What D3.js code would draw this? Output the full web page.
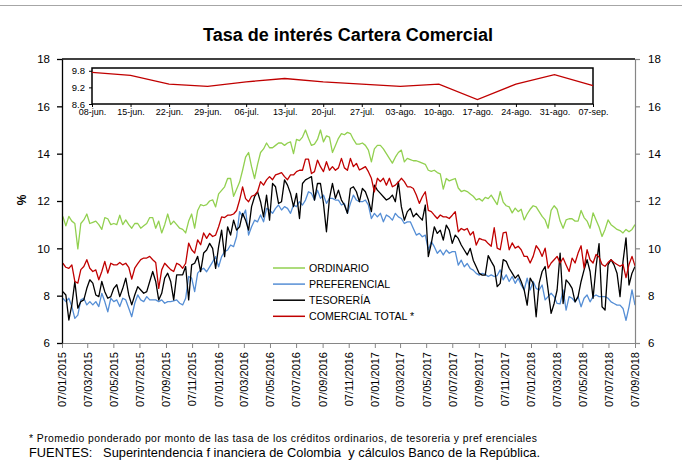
<!DOCTYPE html>
<html>
<head>
<meta charset="utf-8">
<script src="https://cdn.jsdelivr.net/npm/d3@7"></script>
<style>
  body { margin: 0; background: #fff; }
  svg { font-family: Arial, "Liberation Sans", sans-serif; }
</style>
</head>
<body>
<svg class="chart" width="682" height="466"></svg>
<script>
// weekly series, first Friday of 2015 up to 07/09/2018
const ordinario = [
  11.35, 10.95, 11.35, 11.15, 11.05, 9.98, 11.05, 11.2, 11.45, 11.05, 11.1, 11.15,
  11.0, 10.8, 11.3, 11.25, 11.0, 11.05, 11.0, 11.4, 11.0, 11.2, 11.0, 10.85,
  11.05, 11.05, 10.85, 10.95, 11.05, 11.3, 11.3, 10.85, 11.15, 10.65, 11.0, 11.45,
  11.0, 11.15, 11.0, 10.85, 10.8, 10.65, 11.15, 11.45, 10.85, 11.6, 11.85, 11.8,
  11.85, 12.0, 12.05, 11.75, 12.3, 12.45, 12.6, 12.95, 12.95, 12.2, 12.5, 12.8,
  13.3, 13.85, 14.05, 13.45, 12.95, 13.55, 14.05, 14.2, 14.45, 14.25, 14.25, 14.35,
  14.45, 14.45, 14.35, 14.45, 14.5, 14.0, 14.6, 14.55, 14.7, 15.0, 14.65, 14.35,
  14.4, 14.6, 15.0, 14.5, 14.75, 14.7, 14.05, 14.35, 14.65, 14.85, 14.8, 14.9,
  14.85, 14.6, 14.4, 14.4, 14.45, 14.35, 14.15, 13.65, 14.2, 14.35, 14.35, 14.2,
  14.0, 13.8, 13.6, 13.85, 14.05, 14.15, 13.65, 13.8, 13.75, 13.7, 13.7, 13.65,
  13.6, 13.55, 13.3, 13.25, 13.3, 13.2, 13.15, 12.5, 12.95, 12.85, 12.9, 12.95,
  12.55, 12.4, 12.45, 12.4, 12.3, 12.2, 12.05, 12.1, 12.0, 12.15, 12.1, 12.25,
  12.05, 11.85, 12.4, 11.95, 11.8, 11.75, 11.5, 11.7, 11.55, 11.65, 11.2, 11.45,
  11.65, 11.8, 11.75, 11.55, 11.35, 11.2, 10.85, 11.6, 11.8, 11.65, 11.15, 10.85,
  11.2, 11.25, 11.25, 11.15, 11.15, 11.6, 11.3, 11.15, 10.85, 11.5, 11.2, 10.9,
  10.5, 10.8, 11.2, 11.0, 10.9, 10.8, 10.75, 10.65, 10.8, 10.7, 10.8, 11.0
]

const preferencial = [
  7.89, 7.75, 7.89, 7.54, 7.04, 7.18, 7.82, 7.89, 7.61, 7.75, 7.61, 7.75,
  7.54, 8.1, 7.75, 7.32, 7.89, 7.75, 7.82, 7.54, 7.89, 7.82, 7.47, 7.11,
  7.68, 8.03, 7.82, 7.75, 7.96, 7.82, 7.82, 7.82, 7.75, 7.82, 7.68, 7.75,
  7.75, 7.78, 7.82, 7.68, 7.61, 7.89, 8.81, 8.74, 8.17, 8.95, 9.09, 9.16,
  9.01, 9.22, 9.43, 9.65, 9.22, 9.65, 9.86, 9.93, 10.14, 10.07, 10.49, 11.55,
  11.33, 11.62, 10.56, 10.91, 11.19, 11.12, 11.41, 11.12, 11.69, 11.62, 11.48, 11.69,
  11.83, 11.62, 11.76, 11.69, 11.48, 11.83, 11.76, 11.97, 11.83, 12.04, 12.39, 12.32,
  12.04, 12.46, 12.11, 12.25, 11.9, 12.11, 12.11, 12.04, 12.04, 11.83, 11.9, 11.48,
  11.9, 12.25, 12.04, 11.97, 11.97, 12.04, 11.83, 11.26, 11.48, 11.33, 11.48, 11.12,
  11.41, 11.33, 11.19, 11.48, 11.33, 11.26, 11.05, 11.12, 11.12, 10.84, 10.56, 10.63,
  10.49, 10.56, 9.93, 10.28, 10.07, 9.79, 9.93, 9.72, 9.93, 9.79, 9.86, 9.86,
  9.29, 9.5, 9.22, 9.36, 9.15, 9.08, 8.94, 8.87, 8.94, 8.9, 8.81, 8.88,
  8.81, 8.85, 9.09, 8.67, 8.88, 8.6, 8.81, 8.52, 8.74, 8.45, 8.24, 8.74,
  8.24, 8.6, 8.31, 8.24, 8.45, 7.82, 7.96, 8.1, 7.96, 7.67, 7.65, 8.24,
  7.39, 7.96, 7.89, 7.74, 7.96, 7.53, 7.89, 8.03, 7.74, 7.96, 8.03, 7.96,
  7.96, 7.96, 7.89, 7.74, 7.67, 7.6, 7.6, 7.46, 6.96, 7.53, 8.24, 7.6
]

const tesoreria = [
  8.17, 8.03, 6.97, 7.61, 8.6, 7.47, 7.75, 7.82, 8.31, 8.67, 8.53, 8.03,
  7.96, 8.6, 8.17, 7.89, 7.96, 8.31, 8.46, 7.96, 8.31, 8.74, 8.03, 7.61,
  8.03, 8.38, 8.24, 8.1, 8.17, 8.6, 9.02, 8.6, 7.82, 8.1, 8.74, 8.95,
  8.6, 7.82, 8.88, 8.88, 8.88, 9.23, 7.82, 9.3, 9.37, 9.66, 9.02, 9.8,
  9.93, 10.21, 10.0, 9.15, 10.07, 10.77, 9.65, 10.91, 10.56, 11.19, 10.77, 10.91,
  11.48, 11.19, 10.77, 11.76, 12.18, 12.39, 11.97, 11.33, 12.25, 11.19, 12.74, 12.6,
  11.9, 11.97, 12.89, 12.67, 12.32, 11.76, 12.32, 11.26, 12.74, 12.89, 12.96, 13.03,
  12.04, 12.74, 12.74, 11.9, 10.7, 12.11, 12.74, 12.11, 12.46, 12.04, 11.83, 11.48,
  12.53, 12.6, 12.39, 11.97, 12.53, 12.39, 12.04, 11.55, 12.67, 12.46, 12.32, 12.18,
  12.04, 12.11, 12.25, 11.97, 12.82, 11.76, 11.19, 11.55, 11.69, 11.33, 11.48, 11.33,
  11.19, 11.83, 9.65, 10.21, 10.91, 10.63, 10.77, 10.35, 10.98, 10.77, 10.21, 10.56,
  10.42, 10.14, 9.93, 9.72, 10.0, 9.5, 9.22, 8.94, 8.87, 8.87, 9.69, 9.45,
  9.23, 8.38, 8.52, 9.52, 9.45, 9.16, 8.95, 8.74, 8.88, 8.6, 8.24, 7.6,
  8.74, 8.52, 7.11, 8.52, 9.02, 9.23, 8.24, 7.25, 7.67, 8.24, 9.8, 7.67,
  8.67, 8.52, 8.31, 7.74, 7.96, 8.6, 9.09, 9.52, 9.02, 7.89, 9.23, 10.2,
  7.53, 7.39, 9.3, 9.52, 9.3, 8.95, 7.96, 9.45, 10.44, 8.45, 8.95, 9.23
]

const comercial = [
  9.37, 9.2, 9.15, 9.3, 8.6, 8.53, 9.1, 9.23, 9.52, 9.16, 9.02, 9.09,
  8.67, 9.02, 9.45, 8.95, 9.37, 9.3, 9.3, 9.4, 9.3, 9.37, 9.2, 8.7,
  9.16, 9.35, 9.52, 9.59, 9.59, 9.66, 9.52, 9.4, 8.31, 9.09, 9.37, 9.23,
  9.1, 9.02, 9.37, 9.3, 9.16, 9.37, 10.22, 9.94, 9.8, 10.36, 10.15, 10.65,
  10.42, 10.63, 10.5, 10.56, 10.91, 11.33, 11.3, 11.4, 11.4, 11.45, 11.6, 12.04,
  12.6, 12.1, 11.97, 12.2, 12.25, 12.39, 12.82, 12.67, 12.89, 13.03, 12.9, 13.1,
  13.15, 13.2, 13.03, 12.9, 13.1, 13.1, 13.24, 13.3, 13.3, 13.77, 13.77, 13.16,
  13.24, 13.73, 13.45, 13.24, 13.66, 13.3, 13.45, 13.3, 13.4, 13.8, 13.4, 13.3,
  13.8, 13.45, 13.59, 13.31, 13.38, 13.45, 13.24, 12.96, 12.39, 12.96, 12.82, 12.96,
  12.67, 12.96, 12.6, 12.67, 12.8, 12.96, 12.82, 12.6, 12.6, 12.53, 12.25, 11.9,
  12.18, 12.39, 11.6, 11.55, 11.4, 11.26, 11.41, 11.33, 11.33, 11.26, 11.4, 11.55,
  10.7, 10.84, 10.77, 10.84, 10.56, 10.7, 10.14, 10.42, 10.37, 10.34, 10.2, 10.09,
  10.87, 10.01, 9.94, 10.65, 10.68, 9.94, 10.23, 10.01, 10.09, 9.94, 9.66, 9.66,
  9.38, 9.66, 10.11, 9.94, 9.66, 10.01, 9.16, 9.38, 9.52, 9.66, 9.38, 9.59,
  9.3, 9.02, 9.59, 9.38, 9.8, 10.11, 9.16, 9.94, 9.52, 9.38, 9.74, 9.63,
  9.32, 9.24, 9.40, 9.52, 9.40, 9.32, 9.24, 9.32, 8.76, 9.32, 9.66, 9.26
]

const seriesNames = ["ORDINARIO", "PREFERENCIAL", "TESORERÍA", "COMERCIAL TOTAL *"]
const seriesColors = ["#92d050", "#558ed5", "#000000", "#c00000"]
const yTicks = [6, 8, 10, 12, 14, 16, 18]

// small chart in the corner: last 14 weeks of the total
const insetLabels = ["08-jun.", "15-jun.", "22-jun.", "29-jun.", "06-jul.", "13-jul.", "20-jul.",
  "27-jul.", "03-ago.", "10-ago.", "17-ago.", "24-ago.", "31-ago.", "07-sep."]
const insetTicks = [8.6, 9.2, 9.8]

const firstWeek = new Date(2015, 0, 9)
const dates = d3.range(ordinario.length).map(i => d3.timeDay.offset(firstWeek, 7 * i))
const tickDates = d3.range(0, 45, 2).map(m => new Date(2015, m, 7)) // every 2 months

const svg = d3.select("svg.chart")

const x = d3.scaleTime()
  .domain([new Date(2015, 0, 7), new Date(2018, 8, 7)])
  .range([62, 635])

const y = d3.scaleLinear()
  .domain([6, 18])
  .range([343, 59])

// outer frame line at the top
svg.append("line")
  .attr("x1", 0).attr("x2", 682)
  .attr("y1", 5.5).attr("y2", 5.5)
  .attr("stroke", "#a6a6a6")

svg.append("text")
  .attr("x", 348)
  .attr("y", 41)
  .attr("text-anchor", "middle")
  .style("font-weight", "bold")
  .style("font-size", "18px")
  .text("Tasa de interés Cartera Comercial")

// series lines
const line = d3.line()
  .x((d, i) => x(dates[i]))
  .y(d => y(d))

const allSeries = [ordinario, preferencial, tesoreria, comercial]

svg.append("g")
  .selectAll("path")
  .data(allSeries)
  .enter()
  .append("path")
  .attr("fill", "none")
  .attr("stroke", (d, i) => seriesColors[i])
  .attr("stroke-width", 1.3)
  .attr("stroke-linejoin", "round")
  .attr("d", line)

// axes
const xAxis = svg.append("g")
  .attr("transform", "translate(0,343)")
  .call(d3.axisBottom(x)
    .tickValues(tickDates)
    .tickFormat(d3.timeFormat("%d/%m/%Y"))
    .tickSize(5)
    .tickSizeOuter(0))

xAxis.selectAll("text")
  .attr("transform", "rotate(-90)")
  .attr("x", -9)
  .attr("y", 0)
  .attr("dy", "0.35em")
  .style("text-anchor", "end")
  .style("font-size", "11px")
  .attr("fill", "#000")

xAxis.selectAll("path, line").attr("stroke", "#868686")

const leftAxis = svg.append("g")
  .attr("transform", "translate(62,0)")
  .call(d3.axisLeft(y).tickValues(yTicks).tickSize(5).tickSizeOuter(0).tickPadding(7))

leftAxis.selectAll("text").style("font-size", "11.5px").attr("fill", "#000")
leftAxis.selectAll("path, line").attr("stroke", "#000").attr("stroke-width", 1.3)

const rightAxis = svg.append("g")
  .attr("transform", "translate(635,0)")
  .call(d3.axisRight(y).tickValues(yTicks).tickSize(5).tickSizeOuter(0).tickPadding(8))

rightAxis.selectAll("text").style("font-size", "11.5px").attr("fill", "#000")
rightAxis.selectAll("path, line").attr("stroke", "#868686").attr("stroke-width", 1.2)

// top edge of the plot area
svg.append("line")
  .attr("x1", 62).attr("x2", 635)
  .attr("y1", y(18)).attr("y2", y(18))
  .attr("stroke", "#000")
  .attr("stroke-width", 1.3)

svg.append("text")
  .attr("transform", "translate(26,200) rotate(-90)")
  .attr("text-anchor", "middle")
  .style("font-weight", "bold")
  .style("font-size", "12px")
  .text("%")

// legend
const legend = svg.append("g")
  .selectAll("g")
  .data(seriesNames)
  .enter()
  .append("g")
  .attr("transform", (d, i) => "translate(273," + (268 + i * 16.1) + ")")

legend.append("line")
  .attr("x1", 0).attr("x2", 32)
  .attr("stroke", (d, i) => seriesColors[i])
  .attr("stroke-width", 1.5)

legend.append("text")
  .attr("x", 36)
  .attr("dy", "0.36em")
  .style("font-size", "10.6px")
  .text(d => d)

// inset with the last weeks
const insetValues = comercial.slice(-insetLabels.length)

const xi = d3.scalePoint()
  .domain(insetLabels)
  .range([92, 593])

const yi = d3.scaleLinear()
  .domain([8.6, 9.9])
  .range([104, 68])

svg.append("rect")
  .attr("x", 92).attr("y", 68)
  .attr("width", 501).attr("height", 36)
  .attr("fill", "#fff")
  .attr("stroke", "#000")
  .attr("stroke-width", 1.5)

const insetY = svg.append("g")
  .attr("transform", "translate(92,0)")
  .call(d3.axisLeft(yi).tickValues(insetTicks).tickFormat(d3.format(".1f")).tickSize(3).tickSizeOuter(0).tickPadding(4))

insetY.selectAll("text").style("font-size", "9.5px").attr("fill", "#000")
insetY.select("path").remove()

const insetX = svg.append("g")
  .attr("transform", "translate(0,104)")
  .call(d3.axisBottom(xi).tickSize(3).tickSizeOuter(0).tickPadding(2))

insetX.selectAll("text").style("font-size", "9px").attr("fill", "#000")
insetX.select("path").remove()

svg.append("path")
  .datum(insetValues)
  .attr("fill", "none")
  .attr("stroke", "#c00000")
  .attr("stroke-width", 1.3)
  .attr("d", d3.line()
    .x((d, i) => xi(insetLabels[i]))
    .y(d => yi(d)))

// notes under the chart
svg.append("text")
  .attr("x", 29)
  .attr("y", 442)
  .attr("textLength", 508)
  .attr("lengthAdjust", "spacing")
  .style("font-size", "10.4px")
  .style("white-space", "pre")
  .text("* Promedio ponderado por monto de las tasa de los créditos ordinarios, de tesoreria y pref erenciales")

svg.append("text")
  .attr("x", 29)
  .attr("y", 457)
  .attr("textLength", 511)
  .attr("lengthAdjust", "spacing")
  .style("font-size", "12.8px")
  .style("white-space", "pre")
  .text("FUENTES:   Superintendencia f inanciera de Colombia  y cálculos Banco de la República.")
</script>
</body>
</html>
